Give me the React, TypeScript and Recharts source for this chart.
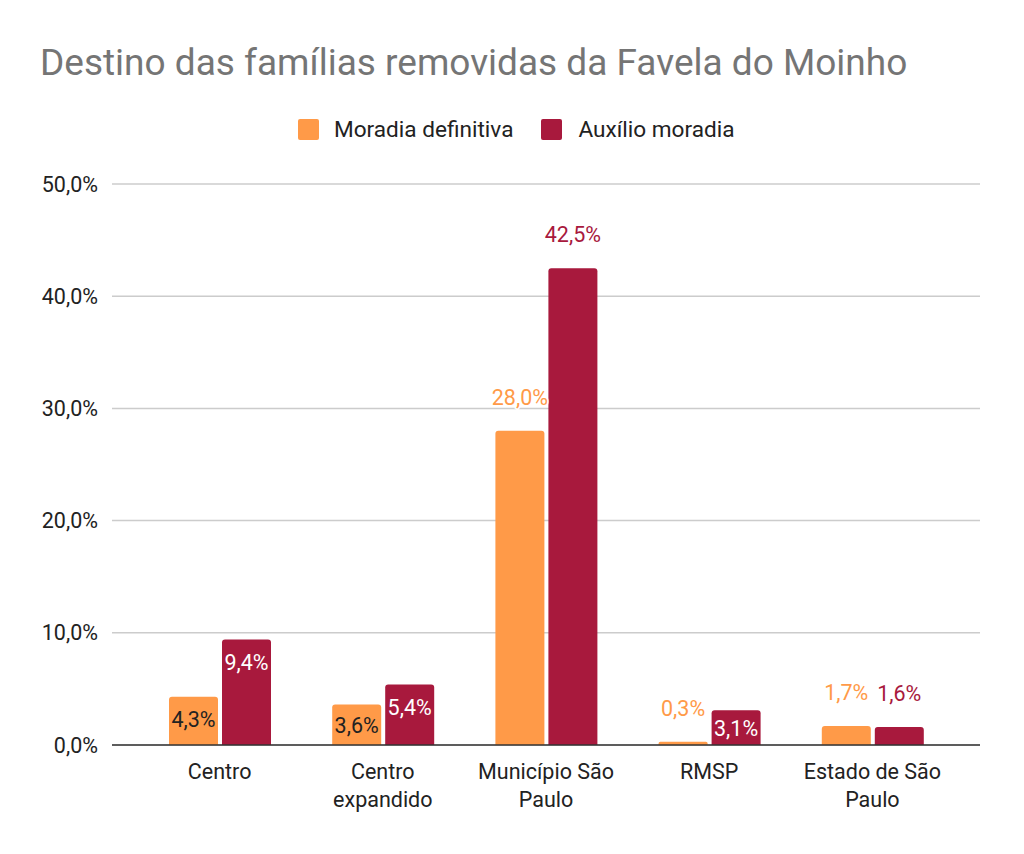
import React from "react";
import {BarChart, Bar, XAxis, YAxis, CartesianGrid, LabelList} from "recharts";

const categories = ["Centro", "Centro expandido", "Município São Paulo", "RMSP", "Estado de São Paulo"];
const moradiaDefinitiva = [4.3, 3.6, 28.0, 0.3, 1.7];
const auxilioMoradia = [9.4, 5.4, 42.5, 3.1, 1.6];
const yTicks = [0, 10, 20, 30, 40, 50];

const ORANGE = "#FF9A48";
const RED = "#A8193D";
const FONT = "Roboto, sans-serif";
const FS = 21.5;

const data = categories.map((name, i) => ({
  name,
  definitiva: moradiaDefinitiva[i],
  auxilio: auxilioMoradia[i],
}));

const fmt = (v: number) => v.toFixed(1).replace(".", ",") + "%";

// greedy word wrap for the category names
const wrap = (s: string, max: number) => {
  const lines: string[] = [];
  let cur = "";
  s.split(" ").forEach(w => {
    if (cur && (cur + " " + w).length > max) {
      lines.push(cur);
      cur = w;
    } else {
      cur = cur ? cur + " " + w : w;
    }
  });
  if (cur) lines.push(cur);
  return lines;
};

const CategoryTick = (props: any) => {
  const {x, y, payload} = props;
  const lines = wrap(payload.value, 13);
  return (
    <text x={x} y={y} textAnchor="middle" fontFamily={FONT} fontSize={FS} fill="#222">
      {lines.map((l, i) => (
        <tspan key={i} x={x} dy={i === 0 ? 34 : 28}>{l}</tspan>
      ))}
    </text>
  );
};

const makeLabel = (color: string, insideColor: string) => (props: any) => {
  const {x, y, width, height, value} = props;
  const cx = x + width / 2;
  const inside = height >= 25 && height < 150;
  if (inside) {
    return (
      <text x={cx} y={y + Math.min(23, height / 2 + 1) + 7.5} textAnchor="middle" fontFamily={FONT} fontSize={FS}
        fill={insideColor}>
        {fmt(value)}
      </text>
    );
  }
  return (
    <text x={cx} y={y - 26} textAnchor="middle" fontFamily={FONT} fontSize={FS} fill={color}
      stroke="#fff" strokeWidth={3} paintOrder="stroke">
      {fmt(value)}
    </text>
  );
};

const Legend = () => (
  <div style={{position: "absolute", top: 116, left: 298, display: "flex", alignItems: "center",
    fontFamily: FONT, fontSize: 22.6, color: "#222"}}>
    <span style={{width: 21, height: 21, background: ORANGE, borderRadius: 2, display: "inline-block"}}/>
    <span style={{marginLeft: 15, marginRight: 28}}>Moradia definitiva</span>
    <span style={{width: 21, height: 21, background: RED, borderRadius: 2, display: "inline-block"}}/>
    <span style={{marginLeft: 16}}>Auxílio moradia</span>
  </div>
);

const App = () => {
  return (
    <div style={{position: "absolute", left: 0, top: 0, width: 1024, height: 854, background: "#fff"}}>
      <div style={{position: "absolute", left: 40, top: 41, fontFamily: FONT, fontSize: 37, color: "#757575",
        whiteSpace: "nowrap"}}>
        Destino das famílias removidas da Favela do Moinho
      </div>
      <Legend/>
      <BarChart width={1024} height={854} data={data} margin={{top: 184, right: 44, bottom: 49, left: 0}}
        barSize={49} barGap={4}>
        <CartesianGrid vertical={false} stroke="#ccc" strokeWidth={1.5}/>
        <XAxis dataKey="name" height={60} tick={<CategoryTick/>} tickLine={false} tickSize={0} tickMargin={0}
          axisLine={{stroke: "#333", strokeWidth: 1.5}} padding={{left: 26, right: 26}} interval={0}/>
        <YAxis domain={[0, 50]} ticks={yTicks} width={112} tickFormatter={fmt} tickLine={false} axisLine={false}
          tickSize={0} tickMargin={14} tick={{fontFamily: FONT, fontSize: FS, fill: "#222"}}/>
        <Bar dataKey="definitiva" fill={ORANGE} radius={[3, 3, 0, 0]} isAnimationActive={false}>
          <LabelList dataKey="definitiva" content={makeLabel(ORANGE, "#222")}/>
        </Bar>
        <Bar dataKey="auxilio" fill={RED} radius={[3, 3, 0, 0]} isAnimationActive={false}>
          <LabelList dataKey="auxilio" content={makeLabel(RED, "#fff")}/>
        </Bar>
      </BarChart>
    </div>
  );
};

export default App;
